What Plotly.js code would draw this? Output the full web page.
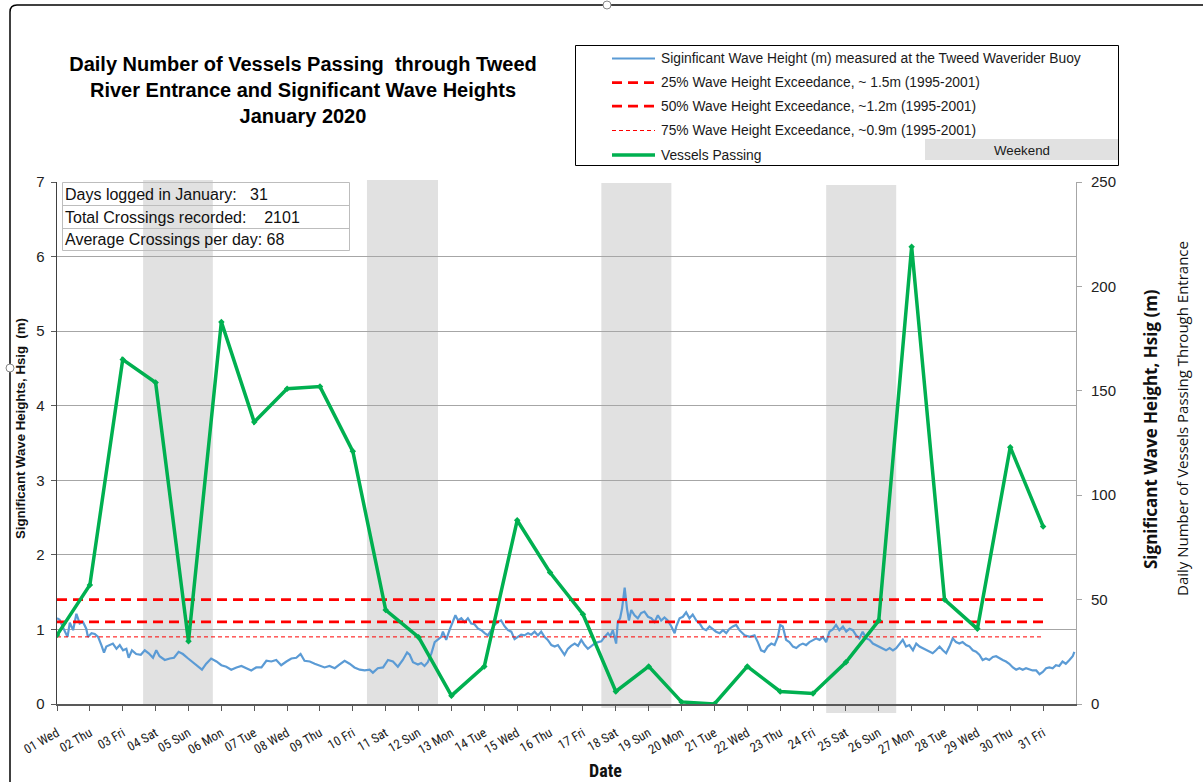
<!DOCTYPE html>
<html>
<head>
<meta charset="utf-8">
<script src="https://cdn.plot.ly/plotly-3.0.1.min.js"></script>
<style>html,body{margin:0;padding:0;background:#fff;}#chart{width:1203px;height:782px;}</style>
</head>
<body>
<div id="chart"></div>
<script>
// ---------- DATA ----------
const days = [1,2,3,4,5,6,7,8,9,10,11,12,13,14,15,16,17,18,19,20,21,22,23,24,25,26,27,28,29,30,31];
const dayLabels = ['01 Wed','02 Thu','03 Fri','04 Sat','05 Sun','06 Mon','07 Tue','08 Wed','09 Thu','10 Fri',
  '11 Sat','12 Sun','13 Mon','14 Tue','15 Wed','16 Thu','17 Fri','18 Sat','19 Sun','20 Mon','21 Tue',
  '22 Wed','23 Thu','24 Fri','25 Sat','26 Sun','27 Mon','28 Tue','29 Wed','30 Thu','31 Fri'];
const vessels = [33,57,165,154,30,183,135,151,152,121,45,32,4,18,88,63,43,6,18,1,0,18,6,5,20,40,219,50,36,123,85];

// wave record time (day of month, decimal) and significant wave height (m)
const waveTime = [1.00,1.08,1.18,1.32,1.39,1.49,1.59,1.69,1.79,1.89,1.94,2.05,2.15,2.25,2.35,2.43,2.50,2.60,2.70,2.81,
  2.91,3.01,3.11,3.18,3.28,3.41,3.55,3.67,3.79,3.92,4.02,4.12,4.28,4.43,4.56,4.70,4.83,4.99,5.11,5.27,
  5.41,5.54,5.69,5.85,6.00,6.15,6.30,6.46,6.61,6.76,6.91,7.06,7.22,7.37,7.52,7.67,7.82,7.98,8.13,8.28,
  8.41,8.53,8.69,8.84,8.99,9.14,9.29,9.45,9.60,9.75,9.90,10.05,10.21,10.36,10.51,10.61,10.76,10.92,11.07,11.22,
  11.37,11.52,11.65,11.73,11.83,11.98,12.08,12.18,12.28,12.39,12.49,12.59,12.69,12.74,12.84,12.94,13.04,13.12,13.20,13.30,
  13.40,13.50,13.60,13.70,13.81,13.91,14.01,14.11,14.21,14.31,14.41,14.51,14.62,14.72,14.82,14.92,15.02,15.12,15.22,15.33,
  15.43,15.53,15.63,15.73,15.83,15.93,16.04,16.14,16.24,16.34,16.44,16.54,16.64,16.75,16.85,16.95,17.05,17.15,17.25,17.35,
  17.46,17.56,17.66,17.76,17.83,17.91,17.96,18.01,18.06,18.13,18.19,18.27,18.34,18.40,18.47,18.57,18.67,18.77,18.87,18.98,
  19.08,19.18,19.28,19.38,19.48,19.58,19.69,19.79,19.84,19.94,20.04,20.14,20.24,20.34,20.45,20.55,20.65,20.75,20.85,20.95,
  21.05,21.16,21.26,21.36,21.46,21.56,21.66,21.76,21.86,21.92,22.07,22.22,22.32,22.42,22.52,22.62,22.73,22.83,22.93,23.00,
  23.08,23.18,23.28,23.39,23.49,23.59,23.69,23.79,23.89,23.99,24.10,24.20,24.30,24.40,24.50,24.60,24.70,24.80,24.91,25.01,
  25.11,25.21,25.31,25.41,25.51,25.62,25.72,25.82,25.92,26.02,26.12,26.22,26.33,26.43,26.53,26.63,26.73,26.83,26.93,27.04,
  27.14,27.24,27.34,27.44,27.54,27.64,27.74,27.85,27.95,28.05,28.15,28.25,28.35,28.45,28.55,28.66,28.76,28.86,28.96,29.06,
  29.16,29.26,29.36,29.47,29.57,29.67,29.77,29.87,29.97,30.08,30.18,30.28,30.38,30.48,30.58,30.68,30.79,30.89,30.99,31.09,
  31.19,31.29,31.39,31.49,31.59,31.69,31.80,31.90,31.95];
const waveHsig = [1.15,1.13,1.03,0.90,1.09,0.99,1.21,1.08,1.10,1.01,0.90,0.95,0.94,0.90,0.79,0.69,0.77,0.79,0.81,0.74,
  0.79,0.72,0.74,0.62,0.72,0.67,0.66,0.72,0.68,0.62,0.72,0.64,0.59,0.61,0.62,0.70,0.67,0.61,0.57,0.51,
  0.46,0.54,0.61,0.57,0.52,0.50,0.46,0.49,0.51,0.48,0.45,0.49,0.49,0.58,0.57,0.59,0.52,0.57,0.61,0.62,
  0.67,0.58,0.57,0.54,0.51,0.49,0.51,0.48,0.53,0.58,0.54,0.49,0.46,0.45,0.46,0.42,0.48,0.49,0.59,0.57,
  0.50,0.59,0.69,0.66,0.56,0.53,0.55,0.51,0.56,0.68,0.83,0.86,0.90,0.97,0.86,0.99,1.10,1.19,1.12,1.15,
  1.10,1.15,1.08,1.07,1.01,0.99,0.95,0.92,0.99,1.06,1.10,1.12,1.04,0.99,0.97,0.87,0.90,0.93,0.92,0.95,
  0.93,0.97,0.92,0.97,0.90,0.86,0.79,0.77,0.79,0.72,0.66,0.74,0.78,0.81,0.78,0.86,0.79,0.74,0.78,0.81,
  0.83,0.84,0.90,0.95,0.91,0.99,0.90,0.81,1.10,1.15,1.28,1.56,1.28,1.12,1.26,1.19,1.15,1.22,1.24,1.17,
  1.15,1.10,1.19,1.12,1.16,1.12,1.04,0.95,1.04,1.15,1.17,1.23,1.15,1.20,1.12,1.08,1.01,0.99,1.04,1.00,
  0.97,0.95,0.99,0.95,1.01,1.04,1.06,0.99,0.95,0.92,0.90,0.92,0.83,0.72,0.70,0.77,0.81,0.79,0.90,1.06,
  1.04,0.86,0.83,0.77,0.75,0.79,0.81,0.79,0.83,0.85,0.88,0.86,0.90,0.83,0.97,1.00,1.06,0.99,1.04,0.97,
  1.01,0.99,0.92,0.88,0.97,0.88,0.86,0.81,0.79,0.77,0.75,0.72,0.75,0.72,0.75,0.81,0.86,0.77,0.79,0.72,
  0.81,0.77,0.75,0.72,0.70,0.68,0.72,0.77,0.72,0.68,0.77,0.88,0.83,0.81,0.83,0.79,0.77,0.72,0.70,0.66,
  0.59,0.61,0.59,0.63,0.64,0.61,0.59,0.57,0.54,0.49,0.46,0.48,0.46,0.48,0.46,0.45,0.45,0.40,0.43,0.48,
  0.49,0.48,0.52,0.51,0.57,0.54,0.59,0.64,0.70];

const exceedNames = ['25% Wave Height Exceedance, ~ 1.5m (1995-2001)',
                     '50% Wave Height Exceedance, ~1.2m (1995-2001)',
                     '75% Wave Height Exceedance, ~0.9m (1995-2001)'];
const exceedLevels = [1.4, 1.1, 0.9];

const weekendStart = [3.62, 10.43, 17.56, 24.40];
const weekendEnd   = [5.74, 12.59, 19.69, 26.53];

const statLabels = ['Days logged in January:\u00a0\u00a0 31',
                    'Total Crossings recorded:\u00a0\u00a0\u00a0 2101',
                    'Average Crossings per day: 68'];

const waveName = 'Siginficant Wave Height (m) measured at the Tweed Waverider Buoy';
const vesselName = 'Vessels Passing';

// ---------- LAYOUT HELPERS (pixel -> paper) ----------
const L = 57, R = 127, T = 182, B = 78, W = 1203, H = 782;
const PW = W - L - R, PH = H - T - B;
const px = X => (X - L) / PW;
const py = Y => (H - B - Y) / PH;

const FONT = 'Liberation Sans, Arial, sans-serif';
const NARROW = 'Liberation Sans Narrow, Arial Narrow, Roboto Condensed, Liberation Sans, Arial, sans-serif';
const SIDE = 'Open Sans, Noto Sans, sans-serif';
const red = '#ff0000';

// ---------- TRACES ----------
const traces = [
  {x: waveTime, y: waveHsig, type: 'scatter', mode: 'lines', name: waveName,
   line: {color: '#5b9bd5', width: 2.2}, showlegend: false, yaxis: 'y'},
  {x: [days[0], days[days.length-1]], y: [exceedLevels[0], exceedLevels[0]], type: 'scatter', mode: 'lines',
   name: exceedNames[0], line: {color: red, width: 2.75, dash: '10px,6px'}, showlegend: false},
  {x: [days[0], days[days.length-1]], y: [exceedLevels[1], exceedLevels[1]], type: 'scatter', mode: 'lines',
   name: exceedNames[1], line: {color: red, width: 2.75, dash: '10px,6px'}, showlegend: false},
  {x: [days[0], days[days.length-1]], y: [exceedLevels[2], exceedLevels[2]], type: 'scatter', mode: 'lines',
   name: exceedNames[2], line: {color: red, width: 1, dash: '4px,3px'}, showlegend: false},
  {x: days, y: vessels, type: 'scatter', mode: 'lines+markers', name: vesselName, yaxis: 'y2',
   line: {color: '#00b050', width: 3.5}, marker: {color: '#00b050', size: 5, symbol: 'diamond'}, showlegend: false}
];

// ---------- SHAPES ----------
const shapes = [];
const wkBottom = [704, 706, 708, 713];
const wkTop = [180, 180, 183, 185];
for (let i = 0; i < weekendStart.length; i++) {
  shapes.push({type: 'rect', xref: 'x', yref: 'paper', x0: weekendStart[i], x1: weekendEnd[i],
    y0: py(wkBottom[i]), y1: py(wkTop[i]), fillcolor: '#e1e1e1', line: {width: 0}, layer: 'below'});
}
// stats table
shapes.push({type: 'rect', xref: 'paper', yref: 'paper', x0: px(62.5), x1: px(349.5), y0: py(250.5), y1: py(182.5),
  line: {color: '#bdbdbd', width: 1}, fillcolor: 'rgba(0,0,0,0)'});
[205.5, 228.5].forEach(Y => shapes.push({type: 'line', xref: 'paper', yref: 'paper', x0: px(62.5), x1: px(349.5),
  y0: py(Y), y1: py(Y), line: {color: '#bdbdbd', width: 1}}));
// legend box
shapes.push({type: 'rect', xref: 'paper', yref: 'paper', x0: px(575.5), x1: px(1118.5), y0: py(165.5), y1: py(45.5),
  line: {color: '#000', width: 1}, fillcolor: '#fff'});
shapes.push({type: 'rect', xref: 'paper', yref: 'paper', x0: px(925), x1: px(1118), y0: py(160), y1: py(139),
  line: {width: 0}, fillcolor: '#e1e1e1'});
const legY = [58.5, 82.5, 106, 130.5, 155];
const legStyle = [
  {color: '#5b9bd5', width: 2.2},
  {color: red, width: 2.75, dash: '10px,6px'},
  {color: red, width: 2.75, dash: '10px,6px'},
  {color: red, width: 1, dash: '4px,3px'},
  {color: '#00b050', width: 3.5}
];
legY.forEach((Y, i) => shapes.push({type: 'line', xref: 'paper', yref: 'paper', x0: px(612), x1: px(655),
  y0: py(Y), y1: py(Y), line: legStyle[i]}));
// outer chart frame
shapes.push({type: 'line', xref: 'paper', yref: 'paper', x0: px(10), x1: px(10), y0: py(782), y1: py(12), line: {color: '#000', width: 1.5}});
shapes.push({type: 'path', xref: 'paper', yref: 'paper', line: {color: '#000', width: 1.5},
  path: 'M ' + px(10) + ' ' + py(12) + ' Q ' + px(10) + ' ' + py(5) + ' ' + px(17) + ' ' + py(5)});
shapes.push({type: 'line', xref: 'paper', yref: 'paper', x0: px(17), x1: px(1203), y0: py(5), y1: py(5), line: {color: '#000', width: 1.5}});
shapes.push({type: 'circle', xref: 'paper', yref: 'paper', x0: px(603), x1: px(611), y0: py(9), y1: py(1), line: {color: '#888', width: 1}, fillcolor: '#fff'});
shapes.push({type: 'circle', xref: 'paper', yref: 'paper', x0: px(6), x1: px(14), y0: py(372), y1: py(364), line: {color: '#888', width: 1}, fillcolor: '#fff'});

// ---------- ANNOTATIONS ----------
const ann = [];
const legText = [waveName, exceedNames[0], exceedNames[1], exceedNames[2], vesselName];
legText.forEach((t, i) => ann.push({xref: 'paper', yref: 'paper', x: px(659), y: py(legY[i]), xanchor: 'left', yanchor: 'middle',
  text: t, showarrow: false, font: {family: FONT, size: 13.8, color: '#1a1a1a'}}));
ann.push({xref: 'paper', yref: 'paper', x: px(1022), y: py(151), xanchor: 'center', yanchor: 'middle', text: 'Weekend',
  showarrow: false, font: {family: FONT, size: 13.3, color: '#1a1a1a'}});
const statY = [194, 217, 239.5];
statLabels.forEach((t, i) => ann.push({xref: 'paper', yref: 'paper', x: px(63), y: py(statY[i]), xanchor: 'left', yanchor: 'middle',
  text: t, showarrow: false, font: {family: FONT, size: 16, color: '#111'}}));
ann.push({xref: 'paper', yref: 'paper', x: px(20), y: py(429), textangle: -90, xanchor: 'center', yanchor: 'middle',
  text: '<b>Significant Wave Heights, Hsig\u00a0 (m)</b>', showarrow: false, font: {family: FONT, size: 13.2, color: '#111'}});
ann.push({xref: 'paper', yref: 'paper', x: px(1150), y: py(429), textangle: -90, xanchor: 'center', yanchor: 'middle',
  text: '<b>Significant Wave Height, Hsig (m)</b>', showarrow: false, font: {family: SIDE, size: 17, color: '#111'}});
ann.push({xref: 'paper', yref: 'paper', x: px(1182), y: py(419), textangle: -90, xanchor: 'center', yanchor: 'middle',
  text: 'Daily Number of Vessels Passing Through Entrance', showarrow: false, font: {family: SIDE, size: 15, color: '#111'}});
ann.push({xref: 'paper', yref: 'paper', x: px(605), y: py(770), xanchor: 'center', yanchor: 'middle',
  text: '<b>Date</b>', showarrow: false, font: {family: NARROW, size: 18, color: '#111'}});

const layout = {
  width: W, height: H,
  margin: {l: L, r: R, t: T, b: B, pad: 0},
  paper_bgcolor: '#fff', plot_bgcolor: 'rgba(0,0,0,0)',
  showlegend: false,
  title: {text: '<b>Daily Number of Vessels Passing\u00a0 through Tweed<br>River Entrance and Significant Wave Heights<br>January 2020</b>',
    xref: 'container', yref: 'container', x: 303 / W, xanchor: 'center', y: 1 - 71 / H, yanchor: 'middle',
    font: {family: FONT, size: 20, color: '#000'}},
  xaxis: {range: [1, 32], tickmode: 'array', tickvals: days, ticktext: dayLabels, tickangle: -30,
    ticks: 'outside', ticklen: 5, tickcolor: '#595959', showline: true, linecolor: '#595959', linewidth: 1.5,
    showgrid: false, zeroline: false, ticklabelstandoff: 10, tickfont: {family: NARROW, size: 13, color: '#222'}},
  yaxis: {range: [0, 7], dtick: 1, tick0: 0, showgrid: true, gridcolor: '#a6a6a6', gridwidth: 1,
    showline: true, linecolor: '#404040', linewidth: 1.5, ticks: 'outside', ticklen: 5, tickcolor: '#595959',
    zeroline: false, ticklabelstandoff: 3, tickfont: {family: FONT, size: 15, color: '#222'}},
  yaxis2: {range: [0, 250], dtick: 50, tick0: 0, overlaying: 'y', side: 'right', showgrid: false,
    showline: true, linecolor: '#a6a6a6', linewidth: 1, ticks: 'outside', ticklen: 5, tickcolor: '#a6a6a6',
    zeroline: false, ticklabelstandoff: 6, tickfont: {family: FONT, size: 15, color: '#222'}},
  shapes: shapes,
  annotations: ann
};

Plotly.newPlot('chart', traces, layout, {displayModeBar: false, staticPlot: true});
</script>
</body>
</html>
